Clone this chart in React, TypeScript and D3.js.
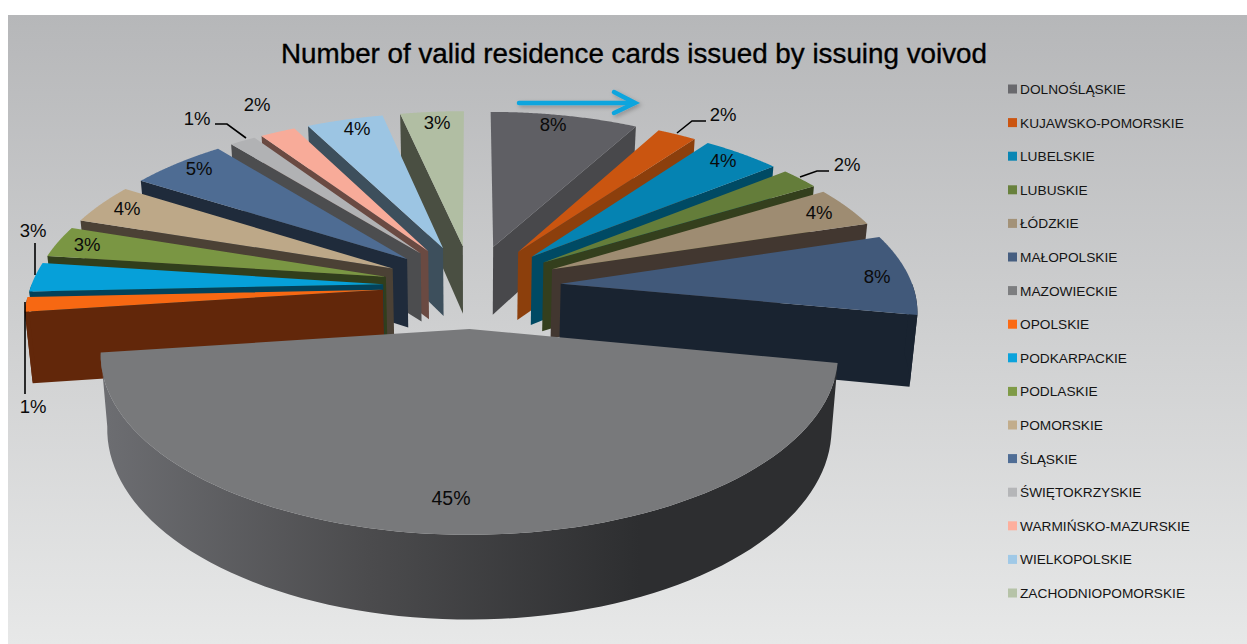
import React from "react";
import * as d3 from "d3";

const W = 1247;
const H = 644;

const title = "Number of valid residence cards issued by issuing voivod";

const voivodships = [
  "DOLNOŚLĄSKIE", "KUJAWSKO-POMORSKIE", "LUBELSKIE", "LUBUSKIE", "ŁÓDZKIE", "MAŁOPOLSKIE",
  "MAZOWIECKIE", "OPOLSKIE", "PODKARPACKIE", "PODLASKIE", "POMORSKIE", "ŚLĄSKIE",
  "ŚWIĘTOKRZYSKIE", "WARMIŃSKO-MAZURSKIE", "WIELKOPOLSKIE", "ZACHODNIOPOMORSKIE",
];
const shares = [7.9, 2.1, 4.2, 2.1, 3.9, 7.8, 44.9, 1.4, 2.8, 3.0, 3.9, 5.2, 1.4, 1.9, 4.1, 3.4];
const shareLabels = ["8%", "2%", "4%", "2%", "4%", "8%", "45%", "1%", "3%", "3%", "4%", "5%", "1%", "2%", "4%", "3%"];

const topColors = [
  "#5f5f64", "#ca5510", "#0583b2", "#647d3a", "#9e8c72", "#41597a", "#78797b", "#f76812",
  "#06a0d9", "#7a9643", "#bda888", "#4e6c93", "#b1b2b4", "#f8ab99", "#9cc5e3", "#b1bea3",
];
const wallColors = [
  "#48484b", "#8c3f0c", "#004a64", "#343f1d", "#423730", "#192330", "#4a4a4c", "#62270a",
  "#03425a", "#313e1c", "#4b4135", "#1f2b3b", "#4c4d4f", "#6a4a42", "#3d4f5c", "#4a4f42",
];
const legendColors = [
  "#69696d", "#cb5511", "#0a86b4", "#68813d", "#a39278", "#465e80", "#7d7e80", "#fb6a15",
  "#0ba3dc", "#7f9b47", "#c2ad8c", "#4f6d95", "#b5b6b8", "#fdaf9d", "#a0c9e7", "#b6c3a8",
];

const labelCenters: [number, number][] = [
  [553, 124], [723, 114], [723, 160], [847, 164], [819, 212], [877, 276], [451, 498], [33, 406],
  [33, 230], [87, 244], [127, 208], [199, 168], [197, 118], [257, 104], [357, 128], [437, 122],
];
const leaders: [number, number][][] = [
  [[677, 133], [692, 121], [706, 121]],
  [[800, 177], [817, 171], [829, 171]],
  [[25, 302], [25, 394]],
  [[35, 243], [35, 275]],
  [[215, 124], [227, 124], [246, 138]],
];

// ground plane -> screen
const CX = 472, CY = 286, SX = 352, SY = 164, PERSP = 0.139, THICK = 70, EXPLODE = 0.253, SHRINK = 0.018;
const project = (x: number, y: number, z: number): [number, number] => {
  const w = 1 - PERSP * y;
  return [CX + (SX * x) / (w * (1 + SHRINK * z)), CY + (SY * y + THICK * z) / w];
};

const pieGen = d3.pie<number>().sort(null).value((d) => d);
const arcs = pieGen(shares);
const line = d3.line();

function buildSlice(i: number) {
  const a0 = arcs[i].startAngle;
  const a1 = arcs[i].endAngle;
  const mid = (a0 + a1) / 2;
  const ox = EXPLODE * Math.sin(mid);
  const oy = -EXPLODE * Math.cos(mid);
  const rim = (a: number, z: number) => project(ox + Math.sin(a), oy - Math.cos(a), z);
  const angles = (from: number, to: number) => d3.range(0, 81).map((k) => from + ((to - from) * k) / 80);
  const top = [project(ox, oy, 0), ...angles(a0, a1).map((a) => rim(a, 0))];
  const walls: [number, number][][] = [];
  const radialWall = (a: number) => [project(ox, oy, 0), rim(a, 0), rim(a, 1), project(ox, oy, 1)] as [number, number][];
  if (a0 > Math.PI) walls.push(radialWall(a0));
  if (a1 < Math.PI) walls.push(radialWall(a1));
  const from = Math.max(a0, Math.PI / 2);
  const to = Math.min(a1, (Math.PI * 3) / 2);
  const rimWall = to > from ? [...angles(from, to).map((a) => rim(a, 0)), ...angles(to, from).map((a) => rim(a, 1))] : null;
  return { i, top, walls, rimWall, depth: -Math.cos(mid) };
}

const slices = arcs.map((_, i) => buildSlice(i)).sort((a, b) => a.depth - b.depth);
const legendY = d3.scalePoint<string>().domain(voivodships).range([89, 593]);

export default function App() {
  return (
    <svg width={W} height={H} style={{ position: "absolute", left: 0, top: 0 }} fontFamily="'Liberation Sans', Arial, sans-serif">
      <defs>
        <linearGradient id="bg" x1="0" y1="0" x2="0" y2="1">
          <stop offset="0" stopColor="#b6b7b9" />
          <stop offset="1" stopColor="#e7e8e8" />
        </linearGradient>
        <linearGradient id="rimGrad" gradientUnits="userSpaceOnUse" x1="100" y1="0" x2="640" y2="0">
          <stop offset="0" stopColor="#6d6e72" />
          <stop offset="0.5" stopColor="#4b4b4d" />
          <stop offset="1" stopColor="#2d2e30" />
        </linearGradient>
        <filter id="arrowShadow" x="-10%" y="-50%" width="120%" height="200%">
          <feDropShadow dx="2" dy="2" stdDeviation="2" floodColor="#000" floodOpacity="0.25" />
        </filter>
      </defs>
      <rect x={8} y={15} width={W - 8} height={H - 15} fill="url(#bg)" />
      <text x={281} y={63} fontSize={27} textLength={706} lengthAdjust="spacingAndGlyphs" fill="#000" stroke="#000" strokeWidth={0.35}>{title}</text>

      {slices.map((s) => (
        <g key={s.i}>
          {s.walls.map((w, k) => (
            <path key={k} d={line(w) + "Z"} fill={wallColors[s.i]} />
          ))}
          {s.rimWall && <path d={line(s.rimWall) + "Z"} fill={s.i === 6 ? "url(#rimGrad)" : wallColors[s.i]} />}
          <path d={line(s.top) + "Z"} fill={topColors[s.i]} />
        </g>
      ))}

      {leaders.map((l, i) => (
        <path key={i} d={line(l) ?? ""} fill="none" stroke="#000" strokeWidth={1.6} />
      ))}
      {shareLabels.map((t, i) => (
        <text key={i} x={labelCenters[i][0]} y={labelCenters[i][1]} dy="0.36em" textAnchor="middle" fontSize={i === 6 ? 19.5 : 18.5} fill="#0a0a0a">{t}</text>
      ))}

      <g filter="url(#arrowShadow)" stroke="#0ea5de" strokeWidth={4.5} fill="none" strokeLinecap="round">
        <path d="M519,103 L634,103" />
        <path d="M614,92 L635,103 L614,113" />
      </g>

      {voivodships.map((v, i) => (
        <g key={v}>
          <rect x={1008} y={(legendY(v) as number) - 4.5} width={9} height={9} fill={legendColors[i]} />
          <text x={1020} y={(legendY(v) as number) + 5} fontSize={13.7} fill="#141414">{v}</text>
        </g>
      ))}
    </svg>
  );
}
